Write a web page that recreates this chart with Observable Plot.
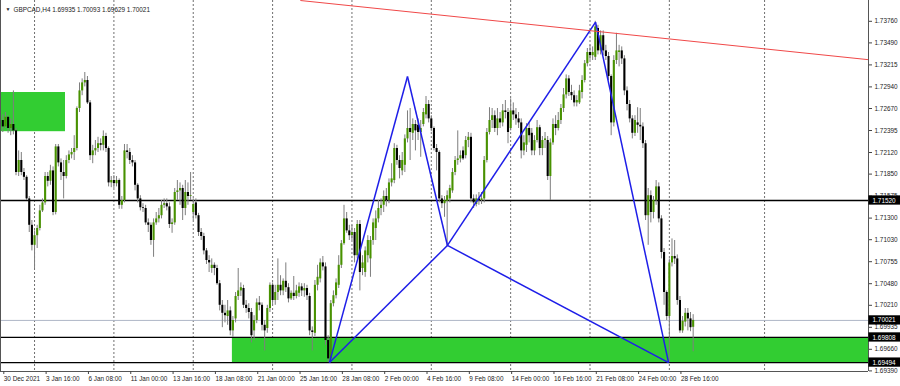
<!DOCTYPE html>
<html><head><meta charset="utf-8">
<script src="https://cdn.jsdelivr.net/npm/d3@7"></script>
<script src="https://cdn.jsdelivr.net/npm/@observablehq/plot@0.6"></script>
<style>body{margin:0;background:#fff;}#chart svg{display:block;}</style>
</head><body><div id="chart"></div>
<script>
const symbolTitle = "GBPCAD,H4 1.69935 1.70093 1.69629 1.70021";

const opens = [
1.7252,1.7244,1.7256,1.7242,1.7247,1.7239,1.7187,1.7202,1.7187,1.7181,
1.7154,1.7121,1.7096,1.7108,1.7117,1.7139,1.7149,1.7182,1.7176,1.7189,
1.7137,1.7219,1.7199,1.7187,1.7182,1.7202,1.7209,1.7212,1.7217,1.7267,
1.7289,1.7299,1.7302,1.7274,1.7208,1.7214,1.7217,1.7223,1.7221,1.7232,
1.7217,1.7174,1.7177,1.7173,1.7177,1.7146,1.7152,1.7214,1.7212,1.7202,
1.7199,1.7171,1.7154,1.7143,1.7142,1.7124,1.7121,1.7102,1.7124,1.7129,
1.7133,1.7146,1.7148,1.7144,1.7122,1.7124,1.7162,1.7164,1.7167,1.7142,
1.7162,1.7157,1.7137,1.7149,1.7133,1.7112,1.7107,1.7089,1.7077,1.7067,
1.7071,1.7067,1.7048,1.7021,1.7011,1.7007,1.7014,1.6989,1.7004,1.7032,
1.7039,1.7042,1.7021,1.7017,1.7012,1.6989,1.7002,1.7024,1.7021,1.6996,
1.6992,1.7017,1.7046,1.7027,1.7037,1.7046,1.7039,1.7051,1.7043,1.7029,
1.7036,1.7032,1.7036,1.7044,1.7039,1.7042,1.7032,1.6989,1.6986,1.7046,
1.7054,1.7074,1.7069,1.6977,1.6954,1.7023,1.7033,1.7046,1.7071,1.7098,
1.7129,1.7114,1.7108,1.7112,1.7083,1.7122,1.7067,1.7062,1.7083,1.7079,
1.7102,1.7117,1.7129,1.7142,1.7146,1.7157,1.7152,1.7174,1.7177,1.7217,
1.7202,1.7189,1.7196,1.7229,1.7242,1.7236,1.7247,1.7246,1.7237,1.7247,
1.7259,1.7272,1.7254,1.7242,1.7217,1.7212,1.7154,1.7148,1.7151,1.7154,
1.7164,1.7187,1.7202,1.7204,1.7214,1.7208,1.7227,1.7231,1.7154,1.7147,
1.7154,1.7152,1.7154,1.7202,1.7237,1.7252,1.7258,1.7242,1.7254,1.7249,
1.7264,1.7262,1.7242,1.7264,1.7259,1.7254,1.7249,1.7214,1.7221,1.7242,
1.7236,1.7214,1.7227,1.7243,1.7217,1.7227,1.7227,1.7182,1.7224,1.7247,
1.7242,1.7252,1.7267,1.7284,1.7304,1.7287,1.7283,1.7274,1.7274,1.7287,
1.7302,1.7323,1.7337,1.7333,1.7331,1.7367,1.7339,1.7358,1.7339,1.7332,
1.7307,1.7249,1.7327,1.7337,1.7339,1.7329,1.7289,1.7272,1.7254,1.7236,
1.7249,1.7246,1.7244,1.7223,1.7133,1.7158,1.7137,1.7152,1.7169,1.7129,
1.7087,1.7037,1.7007,1.7074,1.7082,1.7079,1.7027,1.6989,1.7000,1.7011,
1.7004,1.69935];

const highs = [
1.7259,1.7262,1.7258,1.7254,1.7289,1.7242,1.7214,1.7212,1.7192,1.7183,
1.7157,1.7127,1.7114,1.7121,1.7146,1.7154,1.7187,1.7187,1.7196,1.7194,
1.7222,1.7222,1.7204,1.7202,1.7208,1.7214,1.7217,1.7233,1.7269,1.7299,
1.7304,1.7312,1.7307,1.7277,1.7221,1.7227,1.7231,1.7229,1.7239,1.7236,
1.7219,1.7182,1.7183,1.7182,1.7179,1.7157,1.7222,1.7222,1.7217,1.7208,
1.7202,1.7173,1.7158,1.7148,1.7146,1.7129,1.7124,1.7129,1.7137,1.7142,
1.7152,1.7154,1.7154,1.7149,1.7129,1.7167,1.7177,1.7174,1.7171,1.7177,
1.7174,1.7187,1.7154,1.7154,1.7136,1.7117,1.7111,1.7092,1.7083,1.7079,
1.7074,1.7071,1.7052,1.7027,1.7021,1.7027,1.7019,1.7007,1.7037,1.7067,
1.7049,1.7046,1.7027,1.7023,1.7017,1.7008,1.7029,1.7032,1.7024,1.7002,
1.7021,1.7049,1.7049,1.7046,1.7079,1.7058,1.7054,1.7074,1.7048,1.7039,
1.7057,1.7046,1.7049,1.7048,1.7048,1.7046,1.7036,1.6994,1.7052,1.7071,
1.7079,1.7082,1.7074,1.6983,1.7027,1.7039,1.7054,1.7083,1.7102,1.7146,
1.7137,1.7121,1.7121,1.7117,1.7127,1.7127,1.7083,1.7094,1.7108,1.7107,
1.7129,1.7139,1.7152,1.7154,1.7164,1.7167,1.7179,1.7198,1.7223,1.7221,
1.7208,1.7212,1.7234,1.7264,1.7267,1.7254,1.7252,1.7254,1.7252,1.7267,
1.7282,1.7277,1.7258,1.7244,1.7222,1.7214,1.7158,1.7157,1.7164,1.7171,
1.7192,1.7207,1.7239,1.7214,1.7219,1.7232,1.7237,1.7236,1.7159,1.7159,
1.7162,1.7162,1.7207,1.7242,1.7268,1.7267,1.7264,1.7267,1.7262,1.7272,
1.7277,1.7267,1.7279,1.7274,1.7267,1.7262,1.7254,1.7233,1.7248,1.7249,
1.7242,1.7233,1.7252,1.7246,1.7232,1.7237,1.7232,1.7229,1.7254,1.7258,
1.7262,1.7272,1.7292,1.7309,1.7308,1.7296,1.7289,1.7283,1.7296,1.7308,
1.7327,1.7342,1.7346,1.7344,1.7376,1.7371,1.7364,1.7364,1.7346,1.7337,
1.7309,1.7333,1.7361,1.7346,1.7344,1.7333,1.7294,1.7277,1.7258,1.7258,
1.7268,1.7267,1.7249,1.7227,1.7167,1.7164,1.7157,1.7177,1.7174,1.7133,
1.7092,1.7039,1.7079,1.7104,1.7102,1.7084,1.7032,1.7007,1.7017,1.7017,
1.7012,1.70093];

const lows = [
1.7237,1.7242,1.7236,1.7233,1.7234,1.7183,1.7182,1.7183,1.7177,1.7152,
1.7112,1.7089,1.7067,1.7092,1.7114,1.7137,1.7146,1.7169,1.7171,1.7133,
1.7134,1.7194,1.7177,1.7154,1.7179,1.7198,1.7204,1.7202,1.7214,1.7262,
1.7283,1.7294,1.7272,1.7202,1.7198,1.7208,1.7212,1.7214,1.7214,1.7212,
1.7169,1.7168,1.7167,1.7169,1.7141,1.7141,1.7149,1.7204,1.7197,1.7194,
1.7164,1.7149,1.7139,1.7137,1.7121,1.7112,1.7096,1.7081,1.7121,1.7124,
1.7129,1.7142,1.7139,1.7117,1.7111,1.7121,1.7152,1.7146,1.7127,1.7133,
1.7146,1.7152,1.7127,1.7129,1.7107,1.7102,1.7084,1.7072,1.7062,1.7061,
1.7058,1.7046,1.7014,1.6993,1.6999,1.6996,1.6983,1.6981,1.6999,1.7027,
1.7032,1.7017,1.7011,1.7004,1.6974,1.6977,1.6998,1.7014,1.6989,1.6964,
1.6986,1.7012,1.7021,1.7021,1.7027,1.7033,1.7033,1.7037,1.7024,1.7027,
1.7027,1.7029,1.7031,1.7032,1.7031,1.7027,1.6983,1.6964,1.6982,1.7039,
1.7049,1.7064,1.6971,1.69494,1.6950,1.7019,1.7029,1.7042,1.7067,1.7096,
1.7111,1.7102,1.7102,1.7074,1.7079,1.7039,1.7058,1.7056,1.7074,1.7056,
1.7096,1.7102,1.7124,1.7133,1.7137,1.7144,1.7148,1.7169,1.7173,1.7196,
1.7179,1.7183,1.7187,1.7224,1.7202,1.7227,1.7214,1.7227,1.7206,1.7244,
1.7254,1.7249,1.7238,1.7214,1.7189,1.7149,1.7142,1.7131,1.7094,1.7149,
1.7161,1.7183,1.7196,1.7199,1.7202,1.7204,1.7218,1.7149,1.7142,1.7144,
1.7146,1.7147,1.7149,1.7199,1.7234,1.7242,1.7237,1.7233,1.7242,1.7244,
1.7254,1.7223,1.7239,1.7252,1.7246,1.7242,1.7204,1.7208,1.7212,1.7224,
1.7208,1.7208,1.7224,1.7208,1.7208,1.7217,1.7177,1.7152,1.7221,1.7233,
1.7239,1.7247,1.7262,1.7279,1.7282,1.7277,1.7269,1.7269,1.7272,1.7279,
1.7299,1.7319,1.7327,1.7327,1.7327,1.7334,1.7334,1.7333,1.7327,1.7302,
1.7233,1.7244,1.7322,1.7319,1.7322,1.7283,1.7264,1.7249,1.7229,1.7232,
1.7236,1.7227,1.7217,1.7127,1.7096,1.7124,1.7129,1.7146,1.7124,1.7079,
1.7021,1.7002,1.69494,1.7069,1.7072,1.7021,1.6986,1.6986,1.6994,1.6989,
1.6988,1.69629];

const closes = [
1.7244,1.7256,1.7242,1.7247,1.7239,1.7187,1.7202,1.7187,1.7181,1.7154,
1.7121,1.7096,1.7108,1.7117,1.7139,1.7149,1.7182,1.7176,1.7189,1.7137,
1.7219,1.7199,1.7187,1.7182,1.7202,1.7209,1.7212,1.7217,1.7267,1.7289,
1.7299,1.7302,1.7274,1.7208,1.7214,1.7217,1.7223,1.7221,1.7232,1.7217,
1.7174,1.7177,1.7173,1.7177,1.7146,1.7152,1.7214,1.7212,1.7202,1.7199,
1.7171,1.7154,1.7143,1.7142,1.7124,1.7121,1.7102,1.7124,1.7129,1.7133,
1.7146,1.7148,1.7144,1.7122,1.7124,1.7162,1.7164,1.7167,1.7142,1.7162,
1.7157,1.7158,1.7147,1.7133,1.7112,1.7107,1.7089,1.7077,1.7074,1.7071,
1.7067,1.7048,1.7021,1.7011,1.7008,1.7014,1.6989,1.7002,1.7032,1.7039,
1.7043,1.7021,1.7017,1.7012,1.6983,1.7002,1.7024,1.7021,1.6996,1.6989,
1.7017,1.7046,1.7027,1.7037,1.7046,1.7039,1.7051,1.7043,1.7029,1.7036,
1.7032,1.7039,1.7044,1.7039,1.7042,1.7033,1.6989,1.6987,1.7046,1.7056,
1.7074,1.7069,1.6977,1.6954,1.7023,1.7033,1.7049,1.7071,1.7098,1.7129,
1.7114,1.7108,1.7112,1.7083,1.7122,1.7062,1.7074,1.7089,1.7102,1.7102,
1.7124,1.7129,1.7142,1.7146,1.7157,1.7152,1.7174,1.7179,1.7217,1.7202,
1.7192,1.7202,1.7229,1.7242,1.7237,1.7247,1.7239,1.7237,1.7242,1.7262,
1.7272,1.7254,1.7242,1.7217,1.7212,1.7154,1.7148,1.7152,1.7158,1.7167,
1.7187,1.7202,1.7204,1.7208,1.7204,1.7227,1.7231,1.7154,1.7149,1.7154,
1.7152,1.7154,1.7202,1.7237,1.7252,1.7258,1.7242,1.7254,1.7249,1.7264,
1.7262,1.7237,1.7264,1.7259,1.7254,1.7249,1.7214,1.7224,1.7242,1.7233,
1.7214,1.7227,1.7243,1.7217,1.7227,1.7229,1.7182,1.7224,1.7247,1.7242,
1.7252,1.7267,1.7284,1.7304,1.7287,1.7283,1.7274,1.7277,1.7289,1.7302,
1.7323,1.7337,1.7333,1.7337,1.7369,1.7339,1.7358,1.7339,1.7332,1.7307,
1.7249,1.7327,1.7339,1.7339,1.7329,1.7289,1.7272,1.7254,1.7236,1.7252,
1.7246,1.7244,1.7223,1.7133,1.7158,1.7137,1.7152,1.7169,1.7129,1.7087,
1.7037,1.7007,1.7074,1.7082,1.7079,1.7027,1.6989,1.7001,1.7011,1.7004,
1.6993,1.70021];

// time axis labels, one every 16 H4 bars starting at bar 0
const timeLabels = ["30 Dec 2021","3 Jan 16:00","6 Jan 08:00","11 Jan 00:00","13 Jan 16:00","18 Jan 08:00",
  "21 Jan 00:00","25 Jan 16:00","28 Jan 08:00","2 Feb 00:00","4 Feb 16:00","9 Feb 08:00",
  "14 Feb 00:00","16 Feb 16:00","21 Feb 08:00","24 Feb 00:00","28 Feb 16:00"];
const labelStep = 16;
const gridBars = [12,42,72,102,132,162,192,222,252,288];

const priceTicks = [1.73760,1.73490,1.73215,1.72940,1.72670,1.72395,1.72120,1.71850,1.71575,
  1.71300,1.71030,1.70755,1.70480,1.70210,1.69935,1.69660,1.69390];
const levelLines = [1.71520, 1.69808, 1.69494];
const currentPrice = 1.70021;
const boxedLevels = [1.71520, 1.70021, 1.69808, 1.69494];

// rectangles (bar index / price)
const zoneFrom = [-1, 86.8];
const zoneTo = [23.7, 400];
const zoneTop = [1.7287, 1.69808];
const zoneBottom = [1.7238, 1.69494];

// harmonic pattern X A B C D
const patternBars = [123.5, 153.0, 168.1, 224.1, 251.7];
const patternPrices = [1.69494, 1.7307, 1.70958, 1.7375, 1.69494];
const patternLegs = [[0,1],[1,2],[2,3],[3,4],[0,2],[2,4]];

// red trend line
const trendBars = [112.5, 327.3];
const trendPrices = [1.7402, 1.7328];

const xDomain = [-0.87, 327.29];
const yDomain = [1.693825, 1.7402];

const candles = opens.map((o, i) => ({i, o, h: highs[i], l: lows[i], c: closes[i]}));
const bulls = candles.filter(d => d.c >= d.o);
const bears = candles.filter(d => d.c < d.o);
const zones = zoneFrom.map((f, k) => ({f, t: zoneTo[k], top: zoneTop[k], bottom: zoneBottom[k]}));
const legs = patternLegs.map(([a, b]) => ({x1: patternBars[a], y1: patternPrices[a], x2: patternBars[b], y2: patternPrices[b]}));
const trend = [{x1: trendBars[0], y1: trendPrices[0], x2: trendBars[1], y2: trendPrices[1]}];
const labelBars = timeLabels.map((_, k) => k * labelStep);

const font = "'Liberation Sans', Arial, sans-serif";
const fs = 6.4;

const chart = Plot.plot({
  width: 900, height: 386,
  marginLeft: 0, marginRight: 32, marginTop: 0, marginBottom: 15,
  x: {type: "linear", domain: xDomain, axis: null},
  y: {type: "linear", domain: yDomain, axis: null},
  style: {fontFamily: font, fontSize: fs + "px", background: "#fff", color: "#222"},
  marks: [
    Plot.ruleX(gridBars, {stroke: "#707070", strokeDasharray: "2,2", strokeWidth: 1, clip: true}),
    Plot.rect(zones, {x1: "f", x2: "t", y1: "bottom", y2: "top", fill: "#32cd32", clip: true}),
    Plot.ruleY([currentPrice], {stroke: "#aeb6c6", strokeWidth: 1}),
    Plot.ruleY(levelLines, {stroke: "#000", strokeWidth: 1.3}),
    Plot.ruleX(candles, {x: "i", y1: "l", y2: "h", stroke: "#7e7e7e", strokeWidth: 1}),
    Plot.ruleX(bears, {x: "i", y1: "o", y2: "c", stroke: "#000", strokeWidth: 2.1}),
    Plot.ruleX(bulls, {x: "i", y1: "o", y2: "c", stroke: "#489200", strokeWidth: 2.1}),
    Plot.link(legs, {x1: "x1", y1: "y1", x2: "x2", y2: "y2", stroke: "#1e1ee8", strokeWidth: 1.5}),
    Plot.link(trend, {x1: "x1", y1: "y1", x2: "x2", y2: "y2", stroke: "#f04848", strokeWidth: 1, clip: true}),
    Plot.ruleX([xDomain[0], xDomain[1]], {stroke: "#555", strokeWidth: 1}),
    Plot.ruleY([yDomain[0]], {stroke: "#555", strokeWidth: 1}),
    Plot.axisX(labelBars, {tickFormat: d => timeLabels[d / labelStep], textAnchor: "start", tickSize: 3, tickPadding: 2, dx: 1, fontSize: fs, stroke: "#444", fill: "#222", label: null}),
    Plot.axisY(priceTicks, {anchor: "right", tickSize: 3, tickPadding: 3, tickFormat: d => d.toFixed(5), fontSize: fs, stroke: "#444", fill: "#222", label: null}),
    Plot.rect(boxedLevels, {x1: () => xDomain[1] + 0.15, x2: () => xDomain[1] + 13, y1: d => d - 0.00058, y2: d => d + 0.00058, fill: "#000"}),
    Plot.text(boxedLevels, {y: d => d, text: d => d.toFixed(5), frameAnchor: "right", dx: 4, textAnchor: "start", fill: "#fff", fontSize: fs}),
    Plot.text(["\u25BC"], {frameAnchor: "top-left", dx: 5, dy: 7, fontSize: 5, fill: "#222"}),
    Plot.text([symbolTitle], {frameAnchor: "top-left", dx: 13, dy: 7, textAnchor: "start", fontSize: fs, fill: "#222"})
  ]
});
document.getElementById("chart").appendChild(chart);
</script>
</body></html>
